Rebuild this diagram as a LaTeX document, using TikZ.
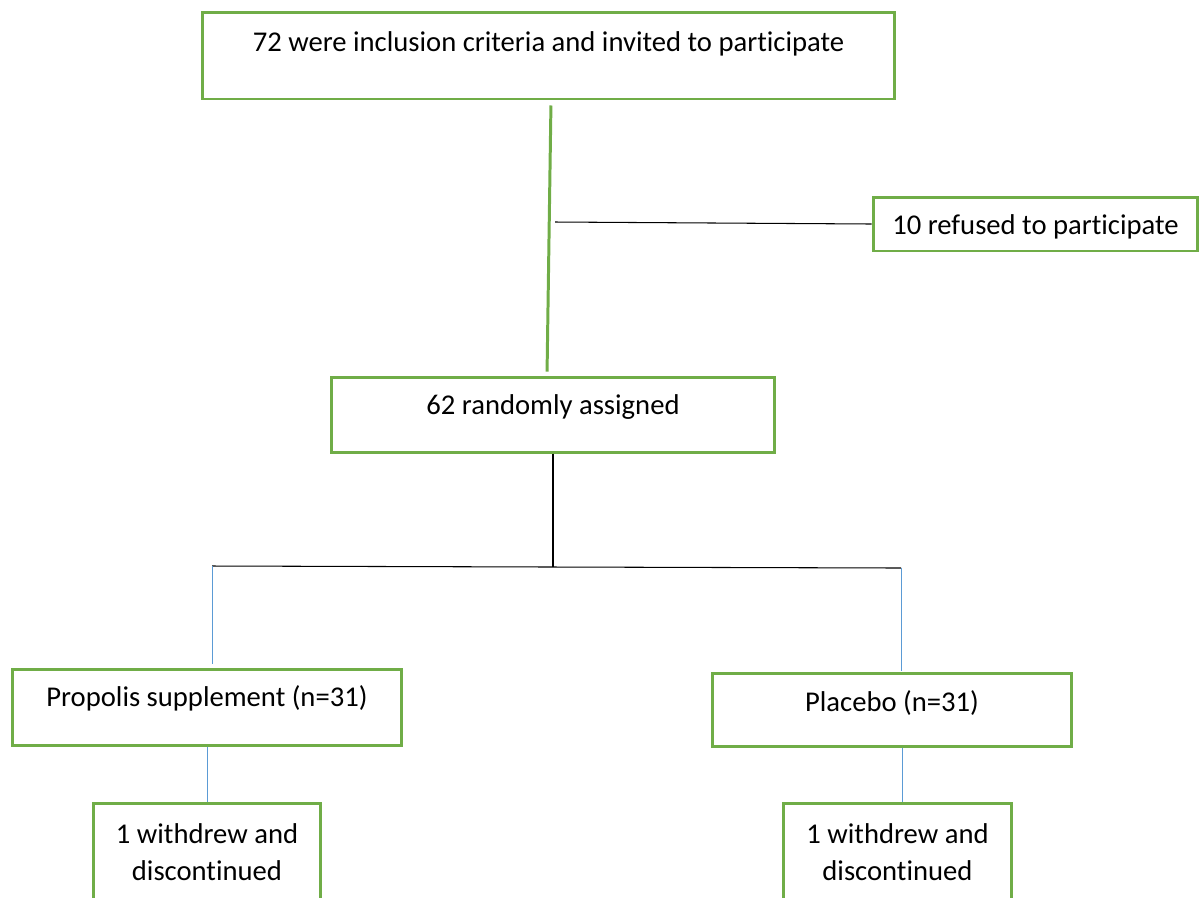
\documentclass[tikz,border=0pt]{standalone}
\usepackage{fontspec}
\setmainfont{Carlito}[Ligatures = NoCommon]
\definecolor{boxgreen}{HTML}{70AD47}
\definecolor{lineblue}{HTML}{5B9BD5}

\begin{document}
\begin{tikzpicture} [x = 0.02cm, y = -0.02cm, line width = 0.6pt,
        box/.style = {draw = boxgreen, line width = 1.7pt, align = center, inner sep = 0pt,
                      font = \fontsize{16.3pt}{21pt}\selectfont},
        oneline/.style = {text height = 0.43cm, text depth = #1},
        greenline/.style = {draw = boxgreen, line width = 1.7pt},
        blueline/.style = {draw = lineblue, line width = 0.5pt}]
        \path [use as bounding box, clip] (0,0) rectangle (1199,897);

        \node [box, oneline = 0.61cm, minimum width = 13.86cm, minimum height = 1.74cm] (invited) at (548.5,55.5) {72 were inclusion criteria and invited to participate};
        \node [box, oneline = 0cm, minimum width = 6.5cm, minimum height = 1.08cm] (refused) at (1035.5,224) {10 refused to participate};
        \node [box, oneline = 0.45cm, minimum width = 8.88cm, minimum height = 1.5cm] (random) at (553,414.5) {62 randomly assigned};

        \coordinate (refusefork) at (555,222);
        \path [greenline, shorten <= 0.1cm, shorten >= 0.08cm] ([xshift = 0.05cm]invited.south) edge ([xshift = -0.12cm]random.north);
        \path (refusefork) edge (refused.west);

        \node [box, oneline = 0.47cm, minimum width = 7.8cm, minimum height = 1.52cm] (propolis) at (207,707) {Propolis supplement (n=31)};
        \node [box, oneline = 0.37cm, minimum width = 7.2cm, minimum height = 1.46cm] (placebo) at (892,709.5) {Placebo (n=31)};

        \coordinate (split) at (553,567);
        \coordinate (leftarm) at (212,566);
        \coordinate (rightarm) at (901,568);

        \path (random.south) edge (split);
        \draw (leftarm) -- (split) -- (rightarm);
        \path [blueline, shorten >= 0.08cm] (leftarm) edge (leftarm |- propolis.north);
        \path [blueline, shorten >= 0.02cm] (rightarm) edge (rightarm |- placebo.north);

        \node [box, minimum width = 4.56cm, minimum height = 1.96cm] (withdrewl) at (207,852) {1 withdrew and\\discontinued};
        \node [box, minimum width = 4.56cm, minimum height = 1.96cm] (withdrewr) at (897.5,852) {1 withdrew and\\discontinued};

        \path [blueline] (propolis.south) edge (withdrewl.north);
        \path [blueline] ([xshift = 0.2cm]placebo.south) edge ([xshift = 0.2cm]placebo.south |- withdrewr.north);

    \end{tikzpicture}
\end{document}
